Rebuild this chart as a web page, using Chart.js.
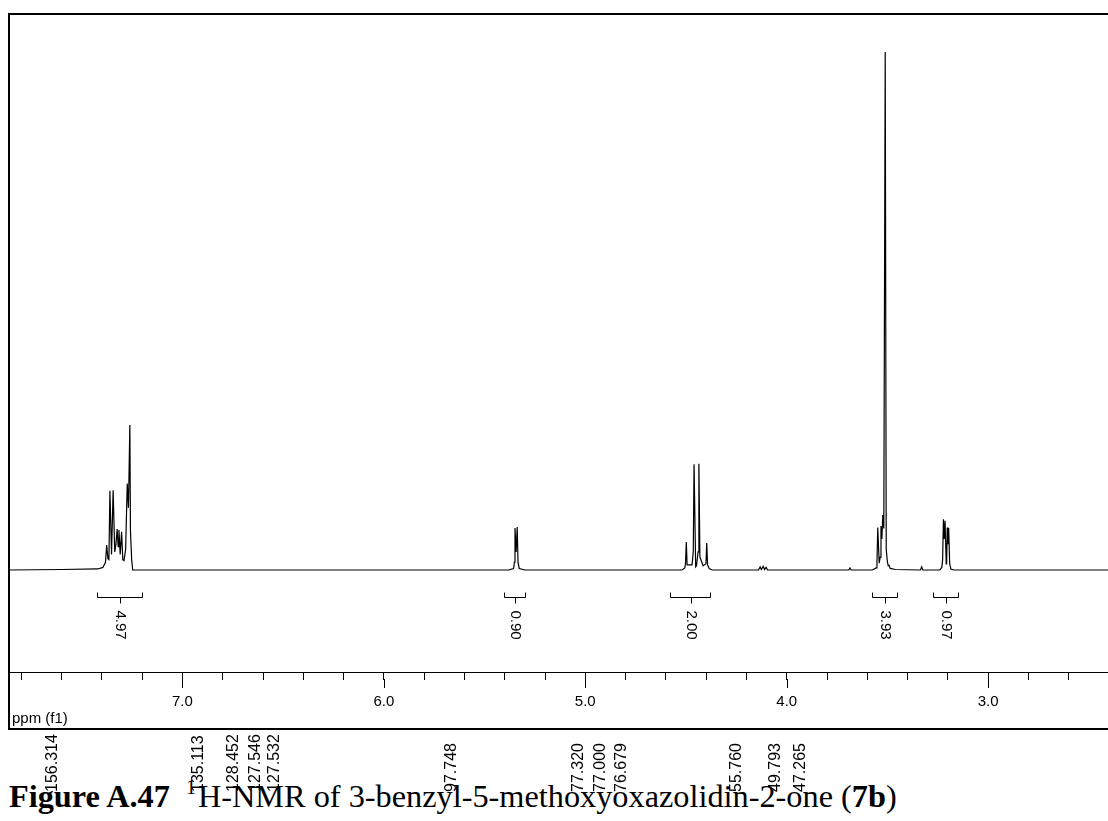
<!DOCTYPE html>
<html>
<head>
<meta charset="utf-8">
<title>1H-NMR 7b</title>
<script src="https://cdn.jsdelivr.net/npm/chart.js"></script>
<style>
  body { margin: 0; background: #fff; }
  #wrap { position: relative; width: 1108px; height: 821px; overflow: hidden; background: #fff; }
  #spec { position: absolute; left: 0; top: 0; }
  .c13 { position: absolute; top: 792px; font: 16px "Liberation Sans", Arial, sans-serif; line-height: 16px;
         transform: rotate(-90deg); transform-origin: 0 0; white-space: nowrap; color: #000; }
  #caption { position: absolute; left: 9px; top: 780px; font: 32.3px "Liberation Serif", "Times New Roman", serif;
             line-height: 33px; white-space: nowrap; color: #000; }
  #caption sup { font-size: 20px; vertical-align: 0; position: relative; top: -13px; margin-left: 8px; margin-right: 2px; }
</style>
</head>
<body>
<div id="wrap">
  <canvas id="spec" width="1108" height="740"></canvas>
  <div id="caption"><b>Figure A.47</b> <sup>1</sup>H-NMR of 3-benzyl-5-methoxyoxazolidin-2-one (<b>7b</b>)</div>
</div>
<script>
// spectrum: chemical shift (ppm) and intensity (tallest peak = 100)
const shift = [
  7.860, 7.600, 7.420, 7.395, 7.382, 7.376, 7.370, 7.365, 7.360, 7.352, 7.344, 7.336, 7.330, 7.324, 7.319,
  7.315, 7.309, 7.302, 7.296, 7.290, 7.282, 7.274, 7.268, 7.261, 7.258, 7.252, 7.247, 7.240,
  5.380, 5.356, 5.352, 5.349, 5.3435, 5.338, 5.334, 5.328, 5.300,
  4.520, 4.506, 4.5025, 4.4985, 4.4945, 4.470, 4.464, 4.460, 4.452, 4.448, 4.440, 4.436, 4.431, 4.415,
  4.401, 4.397, 4.393, 4.385, 4.370,
  4.140, 4.132, 4.126, 4.117, 4.110, 4.102, 4.095,
  3.692, 3.686, 3.680,
  3.575, 3.556, 3.552, 3.548, 3.541, 3.536, 3.532, 3.5275, 3.523, 3.518, 3.511, 3.506, 3.500, 3.496,
  3.492, 3.486, 3.460,
  3.336, 3.330, 3.324,
  3.240, 3.230, 3.226, 3.222, 3.218, 3.214, 3.208, 3.206, 3.203, 3.1995, 3.196, 3.191, 3.185, 3.170,
  2.405
];
const intensity = [
  0, 0.1, 0.2, 0.5, 1.5, 4.8, 2.2, 2.0, 15.3, 3.0, 15.4, 3.5, 5.0, 7.9, 4.5,
  7.7, 3.0, 7.4, 2.0, 1.8, 4.0, 16.7, 12.0, 28.0, 7.5, 2.0, 0, 0,
  0, 0.3, 1.5, 8.1, 3.5, 8.3, 1.5, 0.3, 0,
  0, 0.4, 1.2, 5.4, 1.0, 1.0, 3.5, 20.4, 0.6, 0.8, 3.5, 20.5, 2.5, 0.8,
  1.2, 5.2, 1.0, 0.3, 0,
  0, 0.6, 0.1, 0.7, 0.1, 0.5, 0,
  0, 0.4, 0,
  0, 0.4, 1.5, 8.2, 1.3, 2.5, 8.5, 6.0, 10.6, 8.0, 100, 4.0, 1.5, 0.8,
  0.9, 0.3, 0.1,
  0, 0.6, 0,
  0, 0.5, 2.0, 9.8, 6.0, 9.5, 1.2, 1.5, 8.2, 5.0, 8.1, 1.2, 0.2, 0,
  0
];

// integral regions (ppm) and their values
const intFrom = [7.425, 5.405, 4.579, 3.576, 3.273];
const intTo = [7.201, 5.300, 4.381, 3.452, 3.149];
const intValue = ['4.97', '0.90', '2.00', '3.93', '0.97'];

// labelled ticks on the ppm axis
const majorTicks = [7, 6, 5, 4, 3];

// stray 13C peak labels printed under the frame
const c13Labels = ['156.314', '135.113', '128.452', '127.546', '127.532', '97.748',
                   '77.320', '77.000', '76.679', '55.760', '49.793', '47.265'];
const c13Left = [52, 198, 233, 255, 274, 451, 578, 600, 621, 736, 775, 800];

const wrap = document.getElementById('wrap');
c13Labels.forEach((t, i) => {
  const d = document.createElement('div');
  d.className = 'c13';
  d.textContent = t;
  d.style.left = (c13Left[i] - 8) + 'px';
  wrap.appendChild(d);
});

const FONT = '"Liberation Sans", Arial, sans-serif';

const nmrDecor = {
  id: 'nmrDecor',
  afterDraw(chart) {
    const { ctx, chartArea } = chart;
    const x = chart.scales.x, y = chart.scales.y;
    ctx.save();
    ctx.strokeStyle = '#000';
    ctx.fillStyle = '#000';

    // outer frame
    ctx.lineWidth = 2;
    ctx.beginPath();
    ctx.moveTo(1110, 14);
    ctx.lineTo(9, 14);
    ctx.lineTo(9, 729);
    ctx.lineTo(1110, 729);
    ctx.stroke();

    // longer marks for the labelled ticks
    ctx.lineWidth = 1;
    ctx.beginPath();
    majorTicks.forEach(v => {
      const px = Math.round(x.getPixelForValue(v)) + 0.5;
      ctx.moveTo(px, chartArea.bottom + 7);
      ctx.lineTo(px, chartArea.bottom + 16);
    });
    ctx.stroke();

    // integrals
    const base = y.getPixelForValue(0);
    ctx.font = '15px ' + FONT;
    intFrom.forEach((f, i) => {
      const a = Math.round(x.getPixelForValue(f)) + 0.5;
      const b = Math.round(x.getPixelForValue(intTo[i])) + 0.5;
      const m = Math.round((a + b) / 2) + 0.5;
      const yb = Math.round(base + 27) + 0.5;
      ctx.beginPath();
      ctx.moveTo(a, yb - 5);
      ctx.lineTo(a, yb);
      ctx.lineTo(b, yb);
      ctx.lineTo(b, yb - 5);
      ctx.moveTo(m, yb);
      ctx.lineTo(m, yb + 6);
      ctx.stroke();
      ctx.save();
      ctx.translate(m, yb + 13);
      ctx.rotate(Math.PI / 2);
      ctx.textAlign = 'left';
      ctx.textBaseline = 'middle';
      ctx.fillText(intValue[i], 0, 0);
      ctx.restore();
    });

    // axis title
    ctx.font = '15px ' + FONT;
    ctx.textAlign = 'left';
    ctx.textBaseline = 'alphabetic';
    ctx.fillText('ppm (f1)', 12, 723);
    ctx.restore();
  }
};

new Chart(document.getElementById('spec'), {
  type: 'line',
  data: {
    datasets: [{
      data: shift.map((s, i) => ({ x: s, y: intensity[i] })),
      borderColor: '#000',
      borderWidth: 1.2,
      pointRadius: 0,
      tension: 0,
      fill: false
    }]
  },
  options: {
    responsive: false,
    animation: false,
    events: [],
    layout: { padding: { left: 9, right: 0, top: 14, bottom: 0 } },
    plugins: {
      legend: { display: false },
      tooltip: { enabled: false }
    },
    scales: {
      x: {
        type: 'linear',
        reverse: true,
        min: 2.405,
        max: 7.861,
        afterFit: (s) => { s.height = 68; },
        border: { display: true, color: '#000', width: 1 },
        grid: { drawOnChartArea: false, tickLength: 8, color: '#000', tickWidth: 1 },
        ticks: {
          stepSize: 0.2,
          includeBounds: false,
          autoSkip: false,
          maxRotation: 0,
          padding: 13,
          color: '#000',
          font: { family: FONT, size: 15 },
          callback: (v) => majorTicks.some(t => Math.abs(t - v) < 1e-6) ? Number(v).toFixed(1) : ''
        }
      },
      y: {
        display: false,
        min: -19.69,
        max: 107.34
      }
    }
  },
  plugins: [nmrDecor]
});
</script>
</body>
</html>
